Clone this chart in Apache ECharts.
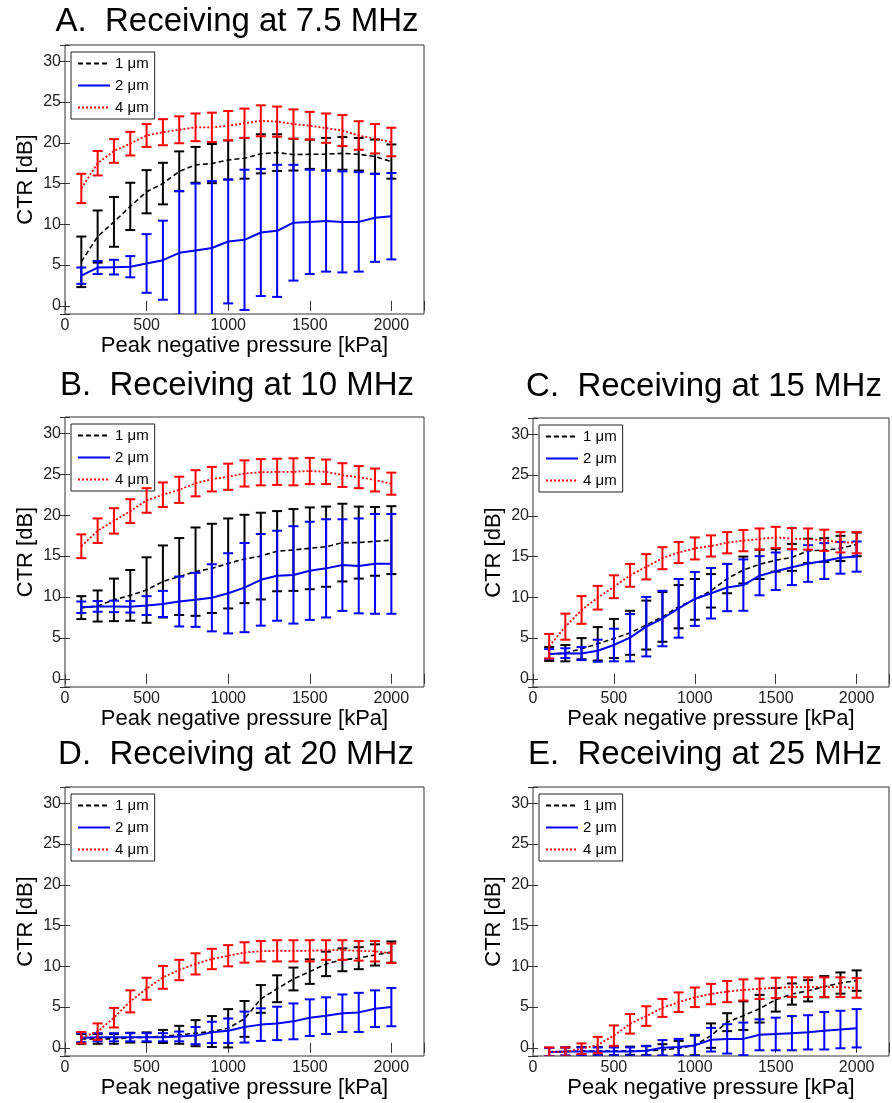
<!DOCTYPE html>
<html><head><meta charset="utf-8">
<script src="https://cdn.jsdelivr.net/npm/echarts@6/dist/echarts.min.js"></script>
<style>html,body{margin:0;padding:0;background:#fff}#c{width:892px;height:1103px}</style>
</head><body><div id="c"></div><script>
// ---- data ----
const pressure = [100,200,300,400,500,600,700,800,900,1000,1100,1200,1300,1400,1500,1600,1700,1800,1900,2000];
const seriesNames = ['1 \u03bcm','2 \u03bcm','4 \u03bcm'];
const xTicks = [0,500,1000,1500,2000];
const yTicks = [0,5,10,15,20,25,30];
const panelTitles = ['A.  Receiving at 7.5 MHz','B.  Receiving at 10 MHz','C.  Receiving at 15 MHz','D.  Receiving at 20 MHz','E.  Receiving at 25 MHz'];

const A_1um_mean = [5.4,8.5,10.3,12.2,14.0,15.0,16.5,17.3,17.45,17.9,18.1,18.65,18.8,18.55,18.6,18.6,18.7,18.6,18.3,17.7];
const A_1um_err  = [3.1,3.2,3.05,2.9,2.65,2.55,2.45,2.2,2.4,2.4,2.5,2.4,2.25,1.95,1.8,2.0,2.0,2.0,2.1,2.1];
const A_2um_mean = [3.7,4.7,4.75,4.8,5.2,5.6,6.5,6.8,7.1,7.9,8.1,9.0,9.2,10.2,10.3,10.4,10.3,10.3,10.8,11.0];
const A_2um_err  = [1.0,0.8,0.9,1.3,3.6,4.85,7.6,8.2,8.2,7.6,8.6,7.8,8.1,7.1,6.4,6.2,6.2,6.1,5.4,5.3];
const A_4um_mean = [14.4,17.5,19.0,19.9,20.9,21.3,21.6,21.9,21.9,22.1,22.4,22.7,22.6,22.3,22.1,21.8,21.5,20.9,20.5,20.1];
const A_4um_err  = [1.8,1.5,1.45,1.45,1.4,1.6,1.65,1.7,1.8,1.8,1.8,1.9,1.85,1.8,1.7,1.8,1.9,1.75,1.8,1.75];

const B_1um_mean = [8.7,8.9,9.65,10.2,10.85,11.9,12.5,13.1,13.5,14.1,14.65,15.0,15.6,15.75,15.95,16.15,16.65,16.65,16.8,16.95];
const B_1um_err  = [1.4,1.9,2.6,3.1,4.0,4.4,4.7,5.4,5.45,5.5,5.4,5.3,4.9,5.0,5.0,4.9,4.75,4.4,4.2,4.15];
const B_2um_mean = [8.75,8.85,8.85,8.8,8.95,9.15,9.45,9.65,9.9,10.45,11.15,12.1,12.6,12.7,13.2,13.5,13.9,13.8,14.05,14.05];
const B_2um_err  = [0.7,0.65,0.7,0.7,1.15,1.6,3.05,3.3,4.1,4.9,5.45,5.6,5.5,5.95,6.0,6.0,5.6,5.8,6.1,6.1];
const B_4um_mean = [16.2,18.1,19.3,20.5,21.8,22.5,23.1,23.9,24.4,24.7,25.1,25.25,25.3,25.3,25.4,25.3,24.9,24.65,24.3,23.85];
const B_4um_err  = [1.45,1.5,1.55,1.45,1.5,1.5,1.6,1.6,1.5,1.6,1.6,1.6,1.6,1.65,1.6,1.5,1.45,1.35,1.4,1.35];

const C_1um_mean = [3.05,3.15,3.7,4.3,4.95,5.65,6.6,7.6,8.85,9.75,10.8,12.3,13.35,14.05,14.55,14.9,15.7,15.8,16.0,16.5];
const C_1um_err  = [0.85,1.0,1.3,2.05,2.4,2.7,3.0,3.05,2.65,2.5,2.05,1.8,1.65,1.8,1.4,1.65,1.5,1.45,1.55,1.45];
const C_2um_mean = [3.05,3.15,3.1,3.45,4.15,5.05,6.4,7.4,8.65,9.8,10.5,11.2,11.5,12.65,13.2,13.7,14.15,14.45,14.85,15.0];
const C_2um_err  = [0.6,0.6,0.8,1.35,2.0,2.9,3.65,3.4,3.6,3.3,3.1,2.9,3.15,2.4,2.3,2.2,2.25,2.2,1.95,1.85];
const C_4um_mean = [4.0,6.4,8.45,9.95,11.3,12.7,13.75,14.8,15.5,16.0,16.3,16.7,16.95,17.15,17.35,17.2,17.15,17.0,16.75,16.7];
const C_4um_err  = [1.5,1.6,1.7,1.45,1.4,1.4,1.55,1.35,1.3,1.35,1.3,1.3,1.3,1.3,1.3,1.3,1.3,1.3,1.25,1.3];

const D_1um_mean = [1.1,1.1,1.1,1.25,1.3,1.4,1.6,1.8,2.0,2.4,3.55,6.0,7.25,8.45,9.35,10.3,10.8,11.0,11.4,11.75];
const D_1um_err  = [0.6,0.6,0.6,0.6,0.6,0.8,1.1,1.6,1.9,2.35,2.2,1.7,1.65,1.4,1.5,1.5,1.4,1.35,1.3,1.3];
const D_2um_mean = [1.25,1.3,1.3,1.3,1.3,1.3,1.4,1.5,1.9,2.1,2.55,2.85,3.0,3.25,3.7,3.95,4.25,4.35,4.8,5.0];
const D_2um_err  = [0.55,0.5,0.5,0.5,0.5,0.5,0.6,1.05,1.3,1.5,1.9,2.0,2.05,2.2,2.25,2.25,2.3,2.4,2.25,2.35];
const D_4um_mean = [1.25,2.0,3.7,5.7,7.25,8.65,9.55,10.3,10.9,11.3,11.7,11.85,11.9,11.9,11.9,12.0,12.0,11.9,11.85,11.6];
const D_4um_err  = [0.7,1.0,1.2,1.35,1.35,1.4,1.25,1.3,1.25,1.3,1.25,1.25,1.3,1.3,1.3,1.2,1.2,1.2,1.25,1.2];

const E_1um_mean = [-0.5,-0.45,-0.4,-0.4,-0.4,-0.35,-0.35,-0.25,-0.05,0.3,1.5,3.15,3.95,4.8,5.9,6.6,7.0,7.5,7.95,8.25];
const E_1um_err  = [0.5,0.5,0.5,0.5,0.5,0.5,0.55,0.7,0.9,1.2,1.5,1.1,1.75,1.7,1.45,1.3,1.3,1.3,1.3,1.25];
const E_2um_mean = [-0.5,-0.45,-0.45,-0.45,-0.45,-0.45,-0.35,0.0,0.1,0.3,1.0,1.1,1.1,1.6,1.7,1.8,1.9,2.1,2.25,2.4];
const E_2um_err  = [0.5,0.5,0.5,0.5,0.5,0.5,0.6,0.95,1.0,1.3,1.45,1.8,2.0,1.9,2.0,2.1,2.1,2.3,2.3,2.35];
const E_4um_mean = [-0.5,-0.5,-0.1,0.35,1.5,2.95,3.9,4.9,5.6,6.2,6.6,6.9,7.1,7.25,7.35,7.45,7.45,7.45,7.45,7.35];
const E_4um_err  = [0.55,0.55,0.65,1.0,1.25,1.2,1.2,1.1,1.2,1.2,1.25,1.3,1.3,1.25,1.25,1.2,1.2,1.2,1.2,1.2];

// ---- layout / styles ----
const FONT = '"Liberation Sans", Arial, Helvetica, sans-serif';
const panelData = [
  [[A_1um_mean,A_1um_err],[A_2um_mean,A_2um_err],[A_4um_mean,A_4um_err]],
  [[B_1um_mean,B_1um_err],[B_2um_mean,B_2um_err],[B_4um_mean,B_4um_err]],
  [[C_1um_mean,C_1um_err],[C_2um_mean,C_2um_err],[C_4um_mean,C_4um_err]],
  [[D_1um_mean,D_1um_err],[D_2um_mean,D_2um_err],[D_4um_mean,D_4um_err]],
  [[E_1um_mean,E_1um_err],[E_2um_mean,E_2um_err],[E_4um_mean,E_4um_err]]
];
const layout = [
  {left:65, top:45, width:359, height:269, tx:237, ty:5},
  {left:65, top:417, width:359, height:270, tx:237, ty:369},
  {left:533, top:418, width:358, height:269, tx:704, ty:370},
  {left:65, top:787, width:359, height:269, tx:236, ty:738},
  {left:533, top:787, width:358, height:269, tx:705, ty:738}
];
const styles = [
  {color:'#000000', type:[5,3], width:1.6},
  {color:'#0000ff', type:'solid', width:2},
  {color:'#ff0000', type:[2,2], width:1.8}
];

function errRender(color){
  return function(params, api){
    const x = api.value(0), lo = api.value(1), hi = api.value(2);
    const a = api.coord([x, lo]), b = api.coord([x, hi]);
    const hw = 5;
    const st = {stroke: color, lineWidth: 2};
    return {type:'group', children:[
      {type:'line', shape:{x1:a[0], y1:a[1], x2:b[0], y2:b[1]}, style:st},
      {type:'line', shape:{x1:a[0]-hw, y1:a[1], x2:a[0]+hw, y2:a[1]}, style:st},
      {type:'line', shape:{x1:b[0]-hw, y1:b[1], x2:b[0]+hw, y2:b[1]}, style:st}
    ]};
  };
}

const grids=[], xAxes=[], yAxes=[], series=[], titles=[], legends=[];
layout.forEach((L,i)=>{
  grids.push({left:L.left, top:L.top, width:L.width, height:L.height, show:true, borderColor:'#333', borderWidth:1, backgroundColor:'#fff'});
  titles.push({text:panelTitles[i], left:L.tx, top:L.ty, textAlign:'center', padding:0,
    textStyle:{fontFamily:FONT, fontSize:33, fontWeight:'normal', color:'#000'}});
  const xBase = {type:'value', gridIndex:i, min:0, max:2200, interval:500, splitLine:{show:false}};
  xAxes.push(Object.assign({}, xBase, {position:'bottom',
    name:'Peak negative pressure [kPa]', nameLocation:'middle', nameGap:20,
    nameTextStyle:{fontFamily:FONT, fontSize:22, color:'#000'},
    axisLine:{show:false}, axisTick:{inside:true, length:5, lineStyle:{color:'#333'}},
    axisLabel:{fontFamily:FONT, fontSize:16, color:'#222', margin:4,
      formatter:v => xTicks.indexOf(v) >= 0 ? String(v) : ''}}));
  xAxes.push(Object.assign({}, xBase, {position:'top',
    axisLine:{show:false}, axisTick:{inside:true, length:5, lineStyle:{color:'#333'}}, axisLabel:{show:false}}));
  const yBase = {type:'value', gridIndex:i, min:-1, max:32, splitNumber:6, splitLine:{show:false}};
  yAxes.push(Object.assign({}, yBase, {position:'left',
    name:'CTR [dB]', nameLocation:'middle', nameGap:28,
    nameTextStyle:{fontFamily:FONT, fontSize:22, color:'#000'},
    axisLine:{show:false}, axisTick:{inside:true, length:5, lineStyle:{color:'#333'}},
    axisLabel:{fontFamily:FONT, fontSize:16, color:'#222', margin:4,
      formatter:v => yTicks.indexOf(v) >= 0 ? String(v) : ''}}));
  yAxes.push(Object.assign({}, yBase, {position:'right',
    axisLine:{show:false}, axisTick:{inside:true, length:5, lineStyle:{color:'#333'}}, axisLabel:{show:false}}));

  panelData[i].forEach((pair,k)=>{
    const mean = pair[0], err = pair[1], s = styles[k];
    series.push({type:'line', name:seriesNames[k], xAxisIndex:2*i, yAxisIndex:2*i,
      data: pressure.map((p,j)=>[p, mean[j]]), symbol:'none', showSymbol:false, color:s.color,
      lineStyle:{color:s.color, type:s.type, width:s.width}, z:2+k, animation:false});
    series.push({type:'custom', name:seriesNames[k]+' err', xAxisIndex:2*i, yAxisIndex:2*i, clip:true,
      data: pressure.map((p,j)=>[p, mean[j]-err[j], mean[j]+err[j]]),
      encode:{x:0, y:[1,2]}, renderItem: errRender(s.color), z:2+k, animation:false});
  });

  legends.push({data:seriesNames, orient:'vertical', left:L.left+6, top:L.top+7,
    padding:[4,6,4,6], itemWidth:32, itemHeight:14, itemGap:7,
    itemStyle:{opacity:0, borderWidth:0},
    backgroundColor:'#fff', borderColor:'#222', borderWidth:1, borderRadius:0,
    selectedMode:false, textStyle:{fontFamily:FONT, fontSize:15, color:'#000'}});
});

const chart = echarts.init(document.getElementById('c'), null, {renderer:'canvas'});
chart.setOption({backgroundColor:'#fff', animation:false, title:titles, legend:legends,
  grid:grids, xAxis:xAxes, yAxis:yAxes, series:series});
</script></body></html>
